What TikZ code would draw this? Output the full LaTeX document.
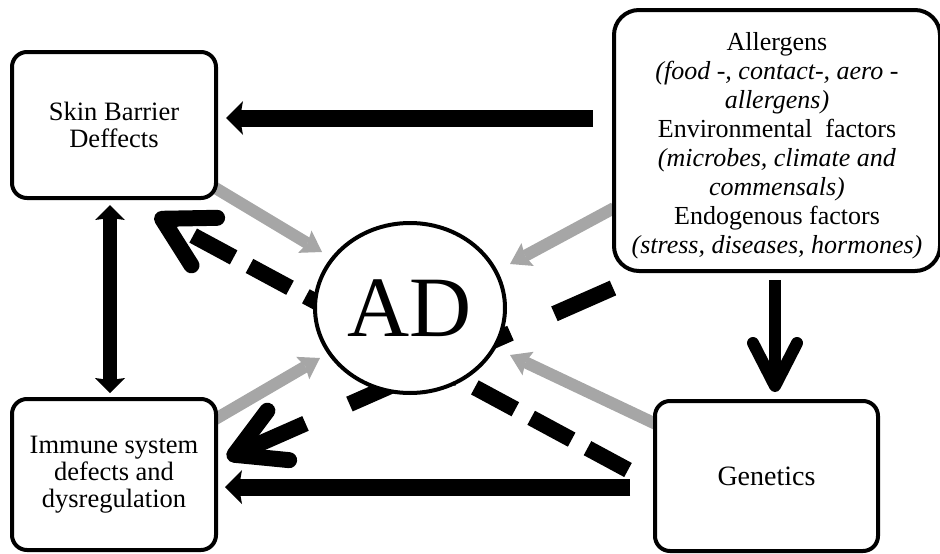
\documentclass[tikz,border=0pt]{standalone}
\usepackage{fontspec}
\setmainfont{Liberation Serif}
\usetikzlibrary{arrows.meta,shapes.geometric}
\pgfdeclarelayer{bg}
\pgfsetlayers{bg,main}
\definecolor{arrgray}{RGB}{166,166,166}
\begin{document}
\begin{tikzpicture}[x=1pt,y=-1pt,
  box/.style={draw, line width=4pt, rounded corners=15pt, fill=white, align=center,
    font=\fontsize{26.5}{27}\selectfont, inner sep=0pt},
  blkarrow/.style={line width=17pt, -{Stealth[length=17pt,width=34pt,inset=3pt,line width=0pt]}},
  dblarrow/.style={line width=14pt, {Stealth[length=15pt,width=30pt,inset=2pt,line width=0pt]}-{Stealth[length=15pt,width=30pt,inset=2pt,line width=0pt]}},
  barbarrow/.style={line width=12pt, -{Straight Barb[length=43pt,width=44pt,round]}},
  grayarrow/.style={draw=arrgray, line width=12pt, -{Stealth[length=20pt,width=26pt,inset=3pt,line width=0pt]}},
  dasharrow/.style={line width=16pt, -{Straight Barb[length=48pt,width=54pt,round]}}
]
\useasboundingbox (0,0) rectangle (940,554);

\node[box, minimum width=204pt, minimum height=146pt] (skin) at (114,125) {Skin Barrier\\Deffects};
\node[box, minimum width=204pt, minimum height=151pt] (immune) at (114,474.5) {Immune system\\defects and\\dysregulation};
\node[box, minimum width=223pt, minimum height=150pt, font=\fontsize{28}{28}\selectfont] (gen) at (766.5,476) {Genetics};
\node[box, rounded corners=25pt, minimum width=326pt, minimum height=261pt,
  font=\fontsize{26}{29}\selectfont] (env) at (777,140.5)
  {\rule{0pt}{28pt}Allergens\\\textit{(food -, contact-, aero -}\\\textit{allergens)}\\Environmental\ \ factors\\\textit{(microbes, climate and}\\\textit{commensals)}\\Endogenous factors\\\textit{(stress, diseases, hormones)}};
\node[draw, ellipse, line width=4pt, fill=white, minimum width=190pt, minimum height=170pt,
  inner sep=0pt, font=\fontsize{86}{86}\selectfont] (ad) at (410,308) {AD};

\coordinate (a1s) at (593,118);  \coordinate (a1e) at (226,118);
\coordinate (a2s) at (630,487);  \coordinate (a2e) at (225,487);
\coordinate (a3s) at (110,205);  \coordinate (a3e) at (110,393);
\coordinate (a4s) at (775,280);  \coordinate (a4e) at (775,392);
\coordinate (g1s) at (212,186);  \coordinate (g1e) at (322,252);
\coordinate (g2s) at (212,421);  \coordinate (g2e) at (320,358);
\coordinate (g3s) at (614,208);  \coordinate (g3e) at (510,264);
\coordinate (g4s) at (658,425);  \coordinate (g4e) at (510,355);
\coordinate (d1s) at (628,470);  \coordinate (d1e) at (155,215);
\coordinate (d2s) at (613,288);  \coordinate (d2e) at (227,458);

\begin{pgfonlayer}{bg}
\draw[blkarrow] (a1s) -- (a1e);
\draw[blkarrow] (a2s) -- (a2e);
\draw[dblarrow] (a3s) -- (a3e);
\draw[barbarrow] (a4s) -- (a4e);
\draw[grayarrow] (g1s) -- (g1e);
\draw[grayarrow] (g2s) -- (g2e);
\draw[grayarrow] (g3s) -- (g3e);
\draw[grayarrow] (g4s) -- (g4e);
\draw[dasharrow, dash pattern=on 46pt off 18pt] (d1s) -- (d1e);
\draw[dasharrow, dash pattern=on 64pt off 48pt] (d2s) -- (d2e);
\end{pgfonlayer}
\end{tikzpicture}
\end{document}
